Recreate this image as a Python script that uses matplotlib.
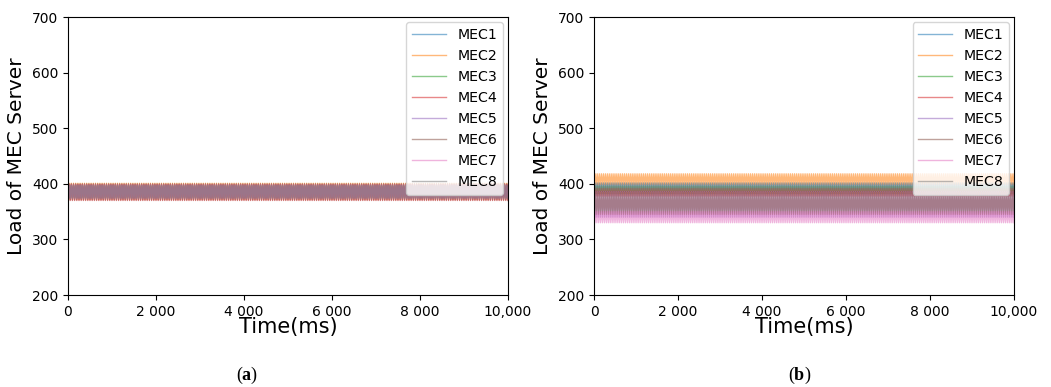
import numpy as np
import matplotlib
matplotlib.use("Agg")
import matplotlib.pyplot as plt
from matplotlib.ticker import FixedLocator, FixedFormatter

plt.rcParams['mathtext.fontset'] = 'custom'
plt.rcParams['mathtext.rm'] = 'Liberation Serif'
plt.rcParams['mathtext.bf'] = 'Liberation Serif:bold'

labels = ["MEC1", "MEC2", "MEC3", "MEC4", "MEC5", "MEC6", "MEC7", "MEC8"]
time_step_ms = 25
time_end_ms = 10000

# panel (a): per-server oscillation low / high load
a_low = [375, 372, 374, 370, 376, 371, 373, 374]
a_high = [398, 401, 397, 399, 396, 400, 398, 397]
# panel (b)
b_low = [386, 399, 382, 378, 340, 345, 330, 388]
b_high = [400, 418, 396, 392, 386, 384, 350, 402]

xticks = [0, 2000, 4000, 6000, 8000, 10000]
xticklabels = ["0", "2 000", "4 000", "6 000", "8 000", "10,000"]
yticks = [200, 300, 400, 500, 600, 700]

colors = plt.rcParams['axes.prop_cycle'].by_key()['color']

fig = plt.figure(figsize=(10.51, 3.87), dpi=100)
ax1 = fig.add_axes([0.0647, 0.2377, 0.4186, 0.7183])
ax2 = fig.add_axes([0.5652, 0.2377, 0.3996, 0.7183])

t = np.arange(0, time_end_ms + time_step_ms, time_step_ms)
n = len(t)

for ax, lows, highs in [(ax1, a_low, a_high), (ax2, b_low, b_high)]:
    for i, lab in enumerate(labels):
        pattern = np.array([lows[i], highs[i]], dtype=float)
        y = np.resize(pattern, n)
        ax.plot(t, y, color=colors[i], alpha=0.55, lw=1.0, label=lab)
    ax.set_xlim(0, 10000)
    ax.set_ylim(200, 700)
    ax.xaxis.set_major_locator(FixedLocator(xticks))
    ax.xaxis.set_major_formatter(FixedFormatter(xticklabels))
    ax.set_yticks(yticks)
    ax.tick_params(labelsize=10)
    ax.set_xlabel("Time(ms)", fontsize=15, labelpad=-1)
    ax.set_ylabel("Load of MEC Server", fontsize=14.5)
    ax.legend(loc="upper right", fontsize=10.2, handlelength=2.4,
              borderaxespad=0.35)

fig.text(0.235, 0.018, r"($\mathbf{a}$)", fontsize=13, ha="center", va="baseline",
         family="Liberation Serif")
fig.text(0.761, 0.018, r"($\mathbf{b}$)", fontsize=13, ha="center", va="baseline",
         family="Liberation Serif")

fig.savefig("out.png", dpi=100)
